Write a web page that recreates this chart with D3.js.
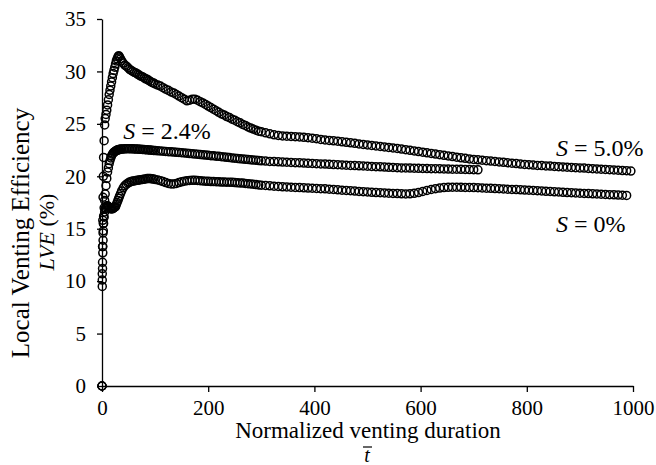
<!DOCTYPE html>
<html>
<head>
<meta charset="utf-8">
<script src="https://cdn.jsdelivr.net/npm/d3@7"></script>
<style>
  body { margin: 0; background: #fff; }
  text { font-family: "Liberation Serif", "Times New Roman", serif; fill: #000; }
</style>
</head>
<body>
<svg id="chart"></svg>
<script>
// normalized venting duration (shared by the three series)
const tValues = [
  0, 0.5, 1, 1.5, 2, 2.5, 3, 4, 5, 6, 7.5, 9, 10.5, 12, 13.5, 15, 16.5, 18, 19.5, 21,
  22.5, 24, 25.5, 27, 28.5, 30, 31.5, 33, 35, 37, 40,
  43, 46, 49, 52, 55, 58, 61, 64, 67, 70, 73, 76, 79, 82, 85, 88, 91, 94, 97, 100,
  105, 110, 115, 120, 125, 130, 135, 140, 145, 150, 155, 160, 165, 170, 175, 180, 185, 190, 195, 200,
  205, 210, 215, 220, 225, 230, 235, 240, 245, 250, 255, 260, 265, 270, 275, 280, 285, 290, 295, 300,
  308, 316, 324, 332, 340, 348, 356, 364, 372, 380, 388, 396, 404, 412, 420, 428, 436, 444, 452, 460,
  468, 476, 484, 492, 500, 508, 516, 524, 532, 540, 548, 556, 564, 572, 580, 588, 596, 604, 612, 620,
  628, 636, 644, 652, 660, 668, 676, 684, 692, 700, 708, 716, 724, 732, 740, 748, 756, 764, 772, 780,
  788, 796, 804, 812, 820, 828, 836, 844, 852, 860, 868, 876, 884, 892, 900, 908, 916, 924, 932, 940,
  948, 956, 964, 972, 980, 988, 996
];

// LVE (%) for S = 5.0%
const lveS50 = [
  0, 10.7, 13.3, 15.8, 18.0, 20.0, 21.8, 23.4, 24.9, 25.5, 25.9, 26.3, 26.8, 27.3, 27.8, 28.2, 28.6, 29.0, 29.4, 29.8,
  30.1, 30.4, 30.7, 31.0, 31.2, 31.4, 31.5, 31.4, 31.2, 31.0, 30.8,
  30.6, 30.5, 30.35, 30.2, 30.1, 30.0, 29.9, 29.85, 29.75, 29.65, 29.55, 29.5, 29.4, 29.3, 29.25, 29.15, 29.05, 28.95, 28.9, 28.8,
  28.7, 28.6, 28.45, 28.3, 28.2, 28.05, 27.95, 27.8, 27.65, 27.5, 27.35, 27.2, 27.25, 27.35, 27.35, 27.25, 27.12, 27.0, 26.85, 26.7,
  26.55, 26.4, 26.25, 26.1, 25.95, 25.85, 25.7, 25.6, 25.45, 25.35, 25.2, 25.1, 24.95, 24.85, 24.7, 24.6, 24.5, 24.4, 24.3, 24.25,
  24.15, 24.05, 23.95, 23.9, 23.85, 23.82, 23.8, 23.78, 23.75, 23.72, 23.68, 23.63, 23.58, 23.52, 23.47, 23.42, 23.38, 23.34, 23.29, 23.24,
  23.19, 23.14, 23.09, 23.04, 22.99, 22.94, 22.89, 22.84, 22.8, 22.75, 22.7, 22.65, 22.6, 22.54, 22.48, 22.42, 22.36, 22.3, 22.24, 22.18,
  22.12, 22.06, 22.0, 21.94, 21.88, 21.82, 21.76, 21.71, 21.66, 21.61, 21.57, 21.53, 21.49, 21.45, 21.41, 21.37, 21.33, 21.29, 21.25, 21.21,
  21.17, 21.13, 21.1, 21.07, 21.04, 21.02, 20.99, 20.97, 20.94, 20.92, 20.89, 20.87, 20.84, 20.82, 20.8, 20.78, 20.75, 20.73, 20.7, 20.68,
  20.65, 20.63, 20.6, 20.58, 20.55, 20.53, 20.5
];

// LVE (%) for S = 2.4% (stops near t = 708)
const lveS24 = [
  0, 10.1, 11.8, 13.3, 14.6, 15.5, 16.2, 17.0, 17.7, 18.3, 19.1, 19.8, 20.4, 20.8, 21.2, 21.5, 21.75, 21.95, 22.1, 22.2,
  22.3, 22.35, 22.4, 22.45, 22.5, 22.5, 22.55, 22.55, 22.6, 22.6, 22.6,
  22.62, 22.63, 22.63, 22.63, 22.62, 22.62, 22.61, 22.6, 22.6, 22.58, 22.57, 22.56, 22.55, 22.54, 22.52, 22.51, 22.5, 22.48, 22.47, 22.45,
  22.43, 22.41, 22.39, 22.37, 22.35, 22.33, 22.31, 22.29, 22.27, 22.25, 22.22, 22.2, 22.17, 22.15, 22.12, 22.1, 22.07, 22.05, 22.02, 22.0,
  21.97, 21.95, 21.92, 21.9, 21.87, 21.84, 21.81, 21.78, 21.75, 21.72, 21.7, 21.67, 21.65, 21.62, 21.6, 21.57, 21.55, 21.53, 21.5, 21.48,
  21.45, 21.42, 21.4, 21.38, 21.36, 21.34, 21.32, 21.3, 21.28, 21.26, 21.24, 21.22, 21.2, 21.18, 21.16, 21.14, 21.12, 21.1, 21.08, 21.06,
  21.04, 21.02, 21.0, 20.98, 20.96, 20.94, 20.92, 20.9, 20.88, 20.86, 20.84, 20.82, 20.8, 20.79, 20.78, 20.77, 20.76, 20.75, 20.74, 20.73,
  20.72, 20.71, 20.7, 20.69, 20.68, 20.67, 20.66, 20.65, 20.64, 20.63, 20.62
];

// LVE (%) for S = 0% (stops near t = 988)
const lveS0 = [
  0, 9.5, 11.2, 12.7, 13.9, 14.8, 15.5, 16.1, 16.6, 16.9, 17.1, 17.2, 17.2, 17.1, 17.0, 16.95, 16.9, 16.9, 16.9, 16.95,
  17.0, 17.05, 17.1, 17.3, 17.5, 17.7, 17.9, 18.1, 18.35, 18.6, 18.9,
  19.1, 19.25, 19.35, 19.45, 19.5, 19.55, 19.55, 19.6, 19.62, 19.65, 19.68, 19.7, 19.72, 19.75, 19.78, 19.78, 19.78, 19.76, 19.73, 19.7,
  19.65, 19.58, 19.5, 19.4, 19.32, 19.27, 19.27, 19.32, 19.4, 19.47, 19.53, 19.58, 19.6, 19.62, 19.62, 19.6, 19.58, 19.55, 19.53, 19.52,
  19.5, 19.5, 19.48, 19.47, 19.45, 19.45, 19.44, 19.43, 19.42, 19.4, 19.38, 19.37, 19.35, 19.32, 19.3, 19.27, 19.24, 19.21, 19.18, 19.15,
  19.12, 19.09, 19.06, 19.03, 19.0, 18.98, 18.96, 18.94, 18.92, 18.9, 18.88, 18.86, 18.84, 18.82, 18.8, 18.77, 18.74, 18.71, 18.68, 18.65,
  18.62, 18.59, 18.56, 18.53, 18.5, 18.47, 18.45, 18.43, 18.41, 18.39, 18.37, 18.35, 18.33, 18.32, 18.33, 18.38, 18.45, 18.55, 18.65, 18.74,
  18.82, 18.88, 18.92, 18.95, 18.96, 18.96, 18.95, 18.94, 18.93, 18.92, 18.91, 18.89, 18.87, 18.85, 18.83, 18.81, 18.79, 18.77, 18.75, 18.73,
  18.71, 18.69, 18.67, 18.65, 18.62, 18.6, 18.57, 18.55, 18.52, 18.5, 18.47, 18.45, 18.43, 18.41, 18.39, 18.37, 18.35, 18.33, 18.31, 18.29,
  18.27, 18.25, 18.23, 18.21, 18.19, 18.17
];

const xTicks = [0, 200, 400, 600, 800, 1000];
const yTicks = [0, 5, 10, 15, 20, 25, 30, 35];

// series labels: S value text and the data point they sit near
const seriesLabels = [
  { value: "2.4%", t: 40, lve: 23.6 },
  { value: "5.0%", t: 855, lve: 21.9 },
  { value: "0%", t: 855, lve: 14.7 }
];

var wtot = 656, htot = 465;
var margin = { top: 19, right: 23, bottom: 79, left: 102 };

const svg = d3.select("#chart")
    .attr("width", wtot)
    .attr("height", htot);

const xScale = d3.scaleLinear([0, 1000], [margin.left, wtot - margin.right]);
const yScale = d3.scaleLinear([0, 35], [htot - margin.bottom, margin.top]);

// x axis
svg.append("g")
    .attr("transform", `translate(0,${htot - margin.bottom})`)
    .call(d3.axisBottom(xScale).tickValues(xTicks).tickFormat(d3.format("d"))
        .tickSize(6).tickPadding(8).tickSizeOuter(0))
    .call(g => g.selectAll("path, line").attr("stroke", "#000").attr("stroke-width", 1.3))
    .call(g => g.selectAll("text").style("font-size", "21px").style("font-family", "'Liberation Serif', serif"));

// y axis
svg.append("g")
    .attr("transform", `translate(${margin.left},0)`)
    .call(d3.axisLeft(yScale).tickValues(yTicks).tickSize(5).tickPadding(11).tickSizeOuter(0))
    .call(g => g.selectAll("path, line").attr("stroke", "#000").attr("stroke-width", 1.3))
    .call(g => g.selectAll("text").style("font-size", "21px").style("font-family", "'Liberation Serif', serif"));

// axis titles
svg.append("text")
    .attr("x", 368).attr("y", 438)
    .attr("text-anchor", "middle")
    .style("font-size", "23px")
    .text("Normalized venting duration");

const tbar = svg.append("g").attr("transform", "translate(367,462)");
tbar.append("text")
    .attr("text-anchor", "middle")
    .style("font-size", "20px")
    .style("font-style", "italic")
    .text("t");
tbar.append("line")
    .attr("x1", -4).attr("x2", 5)
    .attr("y1", -15).attr("y2", -15)
    .attr("stroke", "#000").attr("stroke-width", 1.2);

svg.append("text")
    .attr("transform", "translate(29,233) rotate(-90)")
    .attr("text-anchor", "middle")
    .style("font-size", "25px")
    .text("Local Venting Efficiency");

const lveTitle = svg.append("text")
    .attr("transform", "translate(54,232) rotate(-90)")
    .attr("text-anchor", "middle")
    .style("font-size", "22px");
lveTitle.append("tspan").style("font-style", "italic").text("LVE");
lveTitle.append("tspan").text(" (%)");

// markers
const series = [lveS0, lveS24, lveS50];
svg.append("g")
    .attr("fill", "none")
    .attr("stroke", "#000")
    .attr("stroke-width", 1.5)
    .selectAll("g")
    .data(series)
    .join("g")
    .selectAll("circle")
    .data(d => d.map((v, i) => [tValues[i], v]))
    .join("circle")
    .attr("cx", d => xScale(d[0]))
    .attr("cy", d => yScale(d[1]))
    .attr("r", 4);

// series labels
seriesLabels.forEach(l => {
    const txt = svg.append("text")
        .attr("x", xScale(l.t))
        .attr("y", yScale(l.lve))
        .style("font-size", "24px");
    txt.append("tspan").style("font-style", "italic").text("S");
    txt.append("tspan").text(" = " + l.value);
});
</script>
</body>
</html>
